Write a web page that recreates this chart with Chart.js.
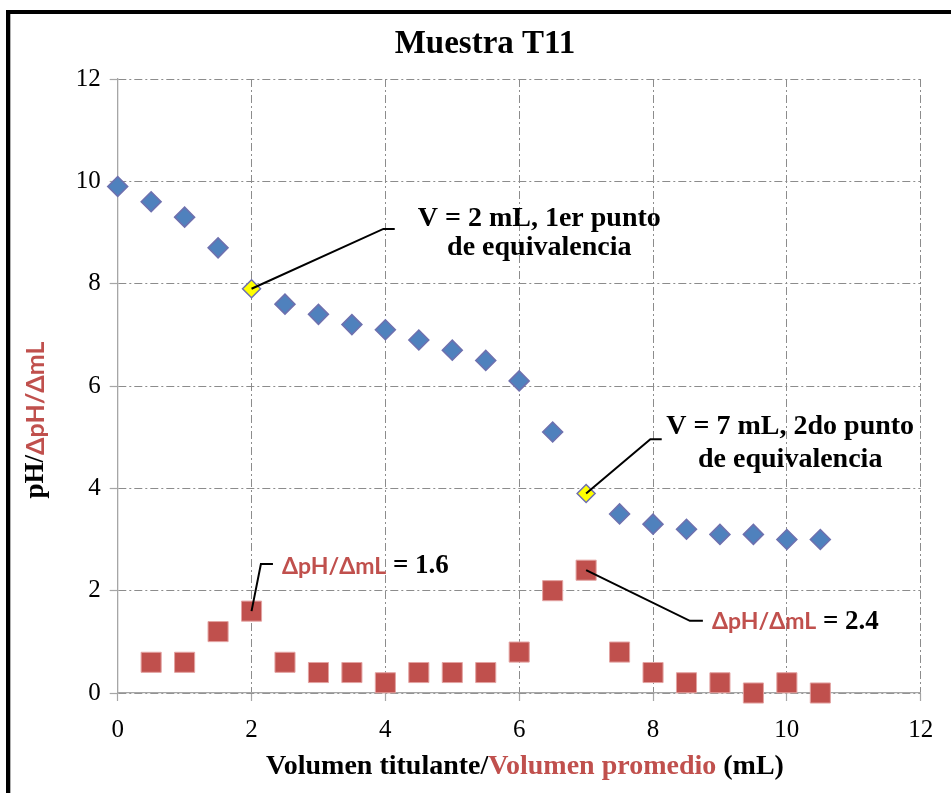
<!DOCTYPE html>
<html>
<head>
<meta charset="utf-8">
<script src="https://cdn.jsdelivr.net/npm/chart.js@4.4.1/dist/chart.umd.min.js"></script>
<style>
  html, body { margin: 0; padding: 0; background: #ffffff; }
  #wrap { width: 951px; height: 793px; position: relative; }
</style>
</head>
<body>
<div id="wrap"><canvas id="chart" width="951" height="793"></canvas></div>
<script>
// Titration of sample T11: pH vs titrant volume, and dpH/dV vs average volume
const titrantVolumes = [0, 0.5, 1, 1.5, 2, 2.5, 3, 3.5, 4, 4.5, 5, 5.5, 6, 6.5, 7, 7.5, 8, 8.5, 9, 9.5, 10, 10.5];
const phValues       = [9.9, 9.6, 9.3, 8.7, 7.9, 7.6, 7.4, 7.2, 7.1, 6.9, 6.7, 6.5, 6.1, 5.1, 3.9, 3.5, 3.3, 3.2, 3.1, 3.1, 3.0, 3.0];
const averageVolumes = [0.5, 1, 1.5, 2, 2.5, 3, 3.5, 4, 4.5, 5, 5.5, 6, 6.5, 7, 7.5, 8, 8.5, 9, 9.5, 10, 10.5];
const derivValues    = [0.6, 0.6, 1.2, 1.6, 0.6, 0.4, 0.4, 0.2, 0.4, 0.4, 0.4, 0.8, 2.0, 2.4, 0.8, 0.4, 0.2, 0.2, 0.0, 0.2, 0.0];
const equivalenceVolumes = [2, 7];
const firstPeak = { volume: 2, value: 1.6 };
const secondPeak = { volume: 7, value: 2.4 };
const xTickValues = [0, 2, 4, 6, 8, 10, 12];
const yTickValues = [0, 2, 4, 6, 8, 10, 12];

const SERIF = '"Liberation Serif", "Times New Roman", serif';
const SANS = 'Lato, "Liberation Sans", Arial, sans-serif';
const RED = '#c0504d';
const BLUE = '#4f81bd';

const phPoints = titrantVolumes.map((v, i) => ({ x: v, y: phValues[i] }));
const derivPoints = averageVolumes.map((v, i) => ({ x: v, y: derivValues[i] }));
const phFill = titrantVolumes.map(v => equivalenceVolumes.includes(v) ? '#ffff00' : BLUE);
const phRadius = titrantVolumes.map(v => equivalenceVolumes.includes(v) ? 9 : 10);

const phAt = v => phValues[titrantVolumes.indexOf(v)];

// Callouts: anchor (data point), elbow and end of leader, text position (data units)
const callouts = [
  {
    anchor: { x: 2, y: phAt(2) }, elbow: { x: 3.97, y: 9.07 }, end: { x: 4.14, y: 9.07 },
    align: 'center', at: { x: 6.3 }, lines: [
      { y: 9.26, runs: [{ t: 'V = 2 mL, 1er punto', f: 'bold 28px ' + SERIF, c: '#000' }] },
      { y: 8.70, runs: [{ t: 'de equivalencia', f: 'bold 28px ' + SERIF, c: '#000' }] }
    ]
  },
  {
    anchor: { x: 7, y: phAt(7) }, elbow: { x: 7.96, y: 4.96 }, end: { x: 8.13, y: 4.96 },
    align: 'center', at: { x: 10.05 }, lines: [
      { y: 5.20, runs: [{ t: 'V = 7 mL, 2do punto', f: 'bold 28px ' + SERIF, c: '#000' }] },
      { y: 4.56, runs: [{ t: 'de equivalencia', f: 'bold 28px ' + SERIF, c: '#000' }] }
    ]
  },
  {
    anchor: { x: firstPeak.volume, y: firstPeak.value }, elbow: { x: 2.14, y: 2.52 }, end: { x: 2.32, y: 2.52 },
    align: 'left', at: { x: 2.455 }, lines: [
      { y: 2.48, runs: [
        { t: 'ΔpH/ΔmL', f: 'bold 23px ' + SANS, c: RED },
        { t: ' = ' + firstPeak.value.toFixed(1), f: 'bold 27px ' + SERIF, c: '#000' }
      ] }
    ]
  },
  {
    anchor: { x: secondPeak.volume, y: secondPeak.value }, elbow: { x: 8.55, y: 1.41 }, end: { x: 8.745, y: 1.41 },
    align: 'left', at: { x: 8.88 }, lines: [
      { y: 1.39, runs: [
        { t: 'ΔpH/ΔmL', f: 'bold 23px ' + SANS, c: RED },
        { t: ' = ' + secondPeak.value.toFixed(1), f: 'bold 27px ' + SERIF, c: '#000' }
      ] }
    ]
  }
];

function drawRuns(ctx, runs, x, y, align) {
  let total = 0;
  runs.forEach(r => { ctx.font = r.f; r.w = ctx.measureText(r.t).width; total += r.w; });
  let cx = align === 'center' ? x - total / 2 : x;
  ctx.textAlign = 'left';
  ctx.textBaseline = 'middle';
  runs.forEach(r => { ctx.font = r.f; ctx.fillStyle = r.c; ctx.fillText(r.t, cx, y); cx += r.w; });
}

const decorations = {
  id: 'decorations',
  beforeDraw(chart) {
    const ctx = chart.ctx;
    ctx.save();
    ctx.fillStyle = '#ffffff';
    ctx.fillRect(0, 0, chart.width, chart.height);
    // outer frame of the chart object
    ctx.fillStyle = '#000000';
    ctx.fillRect(6, 10, 4, chart.height);
    ctx.fillRect(6, 10, chart.width, 4);
    ctx.fillStyle = '#b0b0b0';
    ctx.fillRect(10, 14, 1, chart.height);
    ctx.restore();
  },
  afterDatasetsDraw(chart) {
    const ctx = chart.ctx;
    const xs = chart.scales.x, ys = chart.scales.y;
    const px = v => xs.getPixelForValue(v), py = v => ys.getPixelForValue(v);
    ctx.save();
    callouts.forEach(c => {
      ctx.beginPath();
      ctx.strokeStyle = '#000000';
      ctx.lineWidth = 2;
      ctx.moveTo(px(c.anchor.x), py(c.anchor.y));
      ctx.lineTo(px(c.elbow.x), py(c.elbow.y));
      ctx.lineTo(px(c.end.x), py(c.end.y));
      ctx.stroke();
      c.lines.forEach(l => drawRuns(ctx, l.runs, px(c.at.x), py(l.y), c.align));
    });

    // chart title
    drawRuns(ctx, [{ t: 'Muestra T11', f: 'bold 33px ' + SERIF, c: '#000' }], 485, 44, 'center');

    // x axis title
    drawRuns(ctx, [
      { t: 'Volumen titulante/', f: 'bold 28px ' + SERIF, c: '#000' },
      { t: 'Volumen promedio', f: 'bold 28px ' + SERIF, c: RED },
      { t: ' (mL)', f: 'bold 28px ' + SERIF, c: '#000' }
    ], 525, 767, 'center');

    // y axis title
    ctx.save();
    ctx.translate(36, 420);
    ctx.rotate(-Math.PI / 2);
    drawRuns(ctx, [
      { t: 'pH/', f: 'bold 27px ' + SERIF, c: '#000' },
      { t: 'ΔpH/ΔmL', f: 'bold 25px ' + SANS, c: RED }
    ], 0, 0, 'center');
    ctx.restore();
    ctx.restore();
  }
};

const gridStyle = {
  color: '#8c8c8c',
  lineWidth: 1,
  tickLength: 8,
  tickColor: '#a6a6a6',
  tickWidth: 1.2,
  tickBorderDash: []
};
const borderStyle = { display: true, color: '#a6a6a6', width: 1.3, dash: [8, 3, 2, 3] };

new Chart(document.getElementById('chart'), {
  type: 'scatter',
  data: {
    datasets: [
      {
        label: 'pH',
        data: phPoints,
        pointStyle: 'rectRot',
        pointRadius: phRadius,
        pointHoverRadius: phRadius,
        pointBackgroundColor: phFill,
        pointBorderColor: '#6e70ae',
        pointBorderWidth: 1.5,
        showLine: false,
        clip: false,
        order: 1
      },
      {
        label: 'ΔpH/ΔmL',
        data: derivPoints,
        pointStyle: 'rect',
        pointRadius: 14.2,
        pointHoverRadius: 14.2,
        pointBackgroundColor: RED,
        pointBorderColor: '#e3a3a2',
        pointBorderWidth: 1,
        showLine: false,
        clip: false,
        order: 2
      }
    ]
  },
  options: {
    responsive: false,
    animation: false,
    devicePixelRatio: 1,
    layout: { padding: { left: 0, right: 30.3, top: 79, bottom: 0 } },
    plugins: {
      legend: { display: false },
      title: { display: false },
      tooltip: { enabled: false }
    },
    scales: {
      x: {
        type: 'linear',
        min: 0, max: 12,
        afterBuildTicks: s => { s.ticks = xTickValues.map(v => ({ value: v })); },
        ticks: { font: { family: SERIF, size: 25 }, color: '#000', padding: 14, maxRotation: 0 },
        grid: gridStyle,
        border: borderStyle,
        afterFit: s => { s.height = 100; }
      },
      y: {
        type: 'linear',
        min: 0, max: 12,
        afterBuildTicks: s => { s.ticks = yTickValues.map(v => ({ value: v })); },
        ticks: { font: { family: SERIF, size: 25 }, color: '#000', padding: 9 },
        grid: gridStyle,
        border: borderStyle,
        afterFit: s => { s.width = 117.7; }
      }
    }
  },
  plugins: [decorations]
});
</script>
</body>
</html>
